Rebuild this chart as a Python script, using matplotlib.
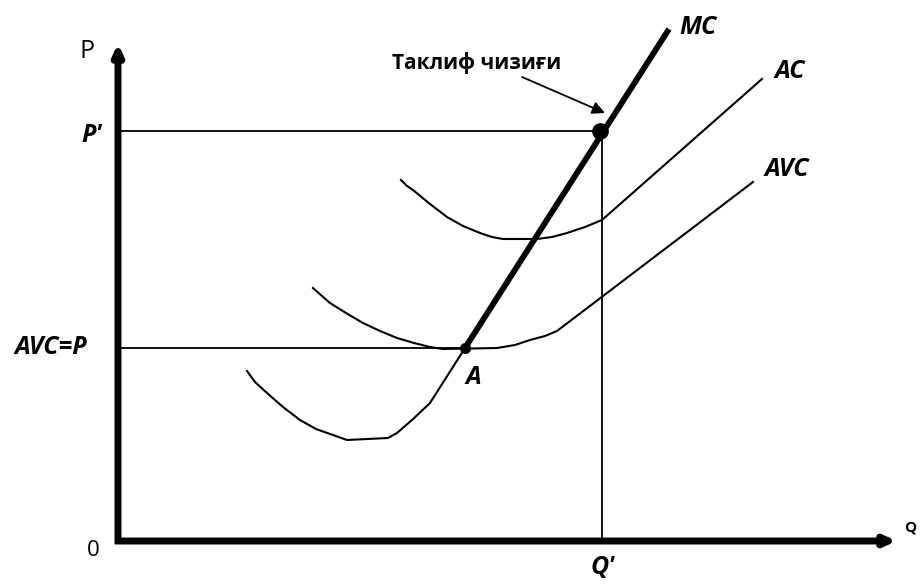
import matplotlib.pyplot as plt

# coordinates: Q to the right of the origin, P up from it
# lower branch of MC (thin), ends at point A
mc_low_q = [129, 137, 149, 165, 182, 198, 215, 229, 270, 279, 294, 312, 347]
mc_low_p = [170, 159, 148, 134, 121, 112, 106, 101, 103, 108, 121, 138, 193]
# thick MC from A up to the top
mc_q = [347, 551]
mc_p = [193, 512]

avc_q = [195, 204, 212, 228, 245, 262, 279, 296, 312, 325, 379, 397, 412, 427, 439, 635]
avc_p = [253, 245, 238, 228, 218, 210, 203, 198, 194, 192, 193, 196, 201, 205, 210, 359]

ac_q = [283, 289, 295, 312, 329, 345, 362, 374, 385, 419, 434, 449, 467, 484, 644]
ac_p = [361, 355, 351, 337, 324, 315, 308, 304, 302, 302, 304, 308, 314, 321, 462]

p_avc = 193      # AVC=P level
a_q = 347        # point A
p_prime = 410    # P'
q_prime = 484    # Q'

fig = plt.figure(figsize=(9.22, 5.84), dpi=100)
ax = fig.add_axes([0, 0, 1, 1])
ax.set_xlim(-118, 804)
ax.set_ylim(-43, 541)
ax.axis('off')

ff = ['Open Sans', 'DejaVu Sans']

# axes with arrows
axis_arrow = dict(arrowstyle='-|>,head_length=0.45,head_width=0.2',
                  lw=5, color='black', mutation_scale=14,
                  shrinkA=0, shrinkB=0, capstyle='butt')
ax.annotate('', xy=(0, 498), xytext=(0, -3), arrowprops=axis_arrow)
ax.annotate('', xy=(779, 0), xytext=(-3, 0), arrowprops=axis_arrow)

# guide lines
ax.plot([0, a_q], [p_avc, p_avc], color='black', lw=1.3)
ax.plot([0, q_prime], [p_prime, p_prime], color='black', lw=1.3)
ax.plot([q_prime, q_prime], [0, p_prime], color='black', lw=1.3)

# cost curves
ax.plot(mc_low_q, mc_low_p, color='black', lw=1.5)
ax.plot(mc_q, mc_p, color='black', lw=4.2, solid_capstyle='butt')
ax.plot(avc_q, avc_p, color='black', lw=1.5)
ax.plot(ac_q, ac_p, color='black', lw=1.5)

# points
ax.plot([a_q], [p_avc], 'o', color='black', ms=7)
ax.plot([q_prime - 2], [p_prime], 'o', color='black', ms=11)

# labels
bi = dict(fontsize=18, fontweight='bold', fontstyle='italic', family=ff,
          ha='center', va='center')
ax.text(580, 513, 'MC', **bi)
ax.text(672, 469, 'AC', **bi)
ax.text(669, 371, 'AVC', **bi)
ax.text(-67, p_avc, 'AVC=P', **bi)
ax.text(-26, 405, "P'", **bi)
ax.text(485, -26, "Q'", **bi)
ax.text(355, 163, 'A', **bi)

ax.text(-31, 489, 'P', fontsize=18, family=ff, ha='center', va='center')
ax.text(-25, -10, '0', fontsize=16, family=ff, ha='center', va='center')
ax.text(792, 13, 'Q', fontsize=11, fontweight='bold', family=ff,
        ha='center', va='center')

ax.text(359, 478, 'Таклиф чизиғи', fontsize=15, fontweight='bold',
        family=ff, ha='center', va='center')
ax.annotate('', xy=(487, 428), xytext=(404, 464),
            arrowprops=dict(arrowstyle='-|>,head_length=0.5,head_width=0.25',
                            lw=1.3, color='black', mutation_scale=15,
                            shrinkA=0, shrinkB=0))

fig.savefig('out.png', dpi=100)
